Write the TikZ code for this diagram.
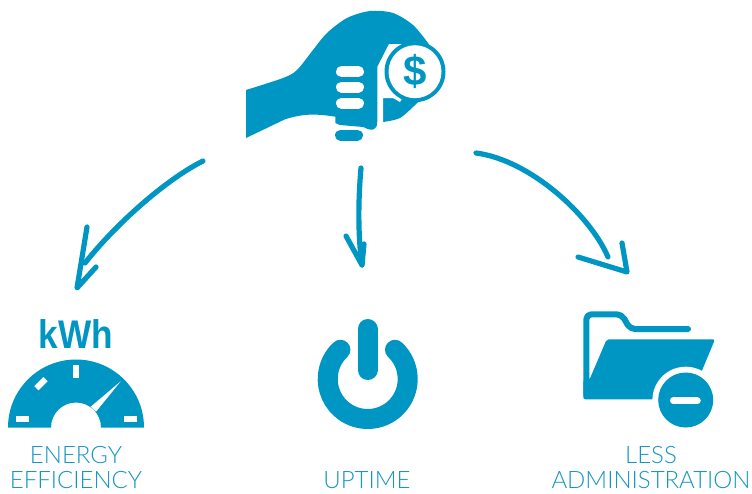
\documentclass[tikz,border=0pt]{standalone}
\usepackage{fontspec}
\setmainfont{Lato Light}
\newfontfamily\boldfont[FakeStretch=0.88]{Liberation Sans Bold}
\newfontfamily\coinfont{Liberation Sans Bold}
\definecolor{iconblue}{HTML}{0096C3}
\definecolor{textblue}{HTML}{1596C2}
\tikzset{
  sketch/.style={draw=iconblue,line width=5.2pt,line cap=round,line join=round},
  pill/.style={line width=11pt,line cap=round},
  caption/.style={text=textblue,font=\fontsize{24}{24}\selectfont,anchor=center,inner sep=0pt}
}
\begin{document}
\begin{tikzpicture}[x=1pt,y=-1pt]
  \useasboundingbox (0,0) rectangle (752,493);
  % hand
  \fill[iconblue] plot[smooth] coordinates {(246,90) (283,78) (297,70) (313,50) (327,33) (347,18) (370,11) (393,13) (413,25) (428,43)}
    -- (440,60) -- (432,90)
    -- plot[smooth] coordinates {(415,105) (400,118) (383,122)}
    -- (377.3,122) .. controls (377.3,130) and (372,132) .. (363.3,127)
    -- (340,125) -- (335.3,123) -- (335.3,116.7)
    .. controls (318,114) and (305,113) .. (285,119.3) -- (246,138) -- cycle;
  \fill[white] (389,44) -- (401,44) -- (415,70) -- (410,85) -- (400,102) -- (393,98) -- (383,98) -- (383,124) -- (377.3,124) -- (377.3,67) -- cycle;
  \foreach \y in {71.6,87,103.2}
    \draw[pill,white] (341.5,\y) -- (358.5,\y);
  \draw[pill,iconblue] (340.5,135.3) -- (357.5,135.3);
  % coin
  \fill[iconblue] (415,71.7) circle (30.5);
  \fill[white] (415,71.7) circle (26.5);
  \node (coin) at (415,71.7) [text=iconblue,font=\coinfont\fontsize{42}{42}\selectfont,inner sep=0pt] {\$};
  % gauge
  \node (kwh) at (76,334.5) [text=iconblue,font=\boldfont\fontsize{40}{40}\selectfont,inner sep=0pt] {kWh};
  \fill[iconblue] (8,427.5) arc (-180:0:68) -- (101,427.5) arc (0:-180:25) -- cycle;
  \fill[white] (16,416) rectangle (28.7,421.7);
  \fill[white] (124,416) rectangle (136.7,421.7);
  \fill[white] (73.3,365) rectangle (79.3,377.7);
  \fill[white,rotate around={45:(41,383.7)}] (34.5,380.7) rectangle (47.5,386.7);
  \fill[white] (120.7,381.3) -- (90.7,406.7) -- (96,411.7) -- cycle;
  % power button
  \draw[iconblue,line width=20pt,line cap=round] (367.7,379) ++(-47:40) arc (-47:227:40);
  \draw[iconblue,line width=20pt,line cap=round] (367.5,329) -- (367.5,370);
  % folder
  \draw[iconblue,line width=6pt,line cap=round,line join=round,rounded corners=5pt] (688,329) -- (630,329) -- (621.7,314.3) -- (586.3,314.3) -- (586.3,395);
  \fill[iconblue,rounded corners=2pt] (606.7,339.3) -- (715,339.3) -- (690,399.3) -- (583.3,399.3) -- (583.3,380) -- (589.3,380) -- cycle;
  \fill[white] (685.7,400) circle (33.3);
  \fill[iconblue] (685.7,400) circle (27.5);
  \draw[white,line width=6.7pt,line cap=round] (673.3,400.7) -- (697.4,400.7);
  % labels
  \node[caption] (energy) at (76,455.5) {ENERGY};
  \node[caption] (efficiency) at (76,480.5) {EFFICIENCY};
  \node[caption] (uptime) at (367,480.5) {UPTIME};
  \node[caption] (less) at (651,455.5) {LESS};
  \node[caption] (admin) at (651,480.5) {ADMINISTRATION};
  % arrows
  \coordinate (energystart) at (203,161);
  \coordinate (energyend) at (85,263);
  \coordinate (energytip) at (77,288);
  \coordinate (uptimestart) at (361,168);
  \coordinate (uptimetip) at (362,265);
  \coordinate (adminstart) at (476,153);
  \coordinate (adminend) at (608,257);
  \coordinate (admintip) at (627,272);
  \draw[sketch] (energystart) .. controls (165,180) and (115,225) .. (energyend);
  \draw[sketch] (87,227) -- (energytip) -- (96,267);
  \draw[sketch] (uptimestart) .. controls (359,190) and (357,230) .. (uptimetip);
  \draw[sketch] (346,236) -- (uptimetip) -- (364,244);
  \draw[sketch] (adminstart) .. controls (530,160) and (590,215) .. (adminend);
  \draw[sketch] (578,257) -- (admintip) -- (622,243);
\end{tikzpicture}
\end{document}
